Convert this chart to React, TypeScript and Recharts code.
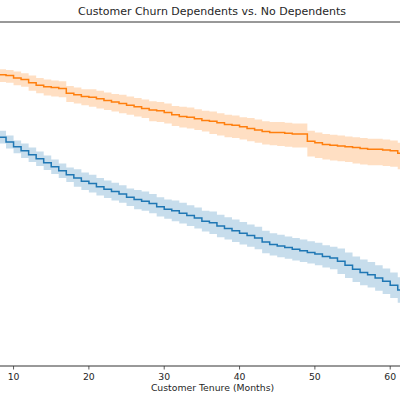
import React from "react";
import { ComposedChart, Area, Line, XAxis, YAxis, ReferenceLine } from "recharts";

const months = [8, 9, 10, 11, 12, 13, 14, 15, 16, 17, 18, 19, 20, 21, 22, 23, 24, 25, 26, 27, 28, 29, 30, 31, 32, 33, 34, 35, 36, 37, 38, 39, 40, 41, 42, 43, 44, 45, 46, 47, 48, 49, 50, 51, 52, 53, 54, 55, 56, 57, 58, 59, 60, 61, 62];

const depSurv = [0.934, 0.933, 0.930, 0.928, 0.924, 0.921, 0.919, 0.918, 0.917, 0.911, 0.909, 0.907, 0.906, 0.904, 0.902, 0.900, 0.898, 0.896, 0.894, 0.892, 0.890, 0.889, 0.887, 0.884, 0.882, 0.881, 0.879, 0.877, 0.876, 0.874, 0.872, 0.871, 0.869, 0.867, 0.865, 0.863, 0.862, 0.862, 0.861, 0.860, 0.860, 0.851, 0.849, 0.847, 0.846, 0.845, 0.844, 0.843, 0.842, 0.841, 0.841, 0.840, 0.839, 0.836, 0.836];
const depUpper = [0.941, 0.940, 0.938, 0.936, 0.933, 0.930, 0.928, 0.927, 0.926, 0.920, 0.918, 0.916, 0.916, 0.914, 0.912, 0.910, 0.909, 0.907, 0.905, 0.903, 0.901, 0.900, 0.898, 0.895, 0.894, 0.893, 0.891, 0.889, 0.888, 0.886, 0.884, 0.883, 0.881, 0.880, 0.878, 0.876, 0.875, 0.875, 0.874, 0.873, 0.873, 0.864, 0.862, 0.860, 0.859, 0.858, 0.857, 0.856, 0.855, 0.854, 0.854, 0.853, 0.852, 0.849, 0.849];
const depLower = [0.925, 0.924, 0.921, 0.919, 0.914, 0.911, 0.908, 0.907, 0.906, 0.900, 0.898, 0.896, 0.894, 0.892, 0.890, 0.888, 0.886, 0.884, 0.882, 0.880, 0.876, 0.875, 0.873, 0.870, 0.868, 0.867, 0.865, 0.863, 0.860, 0.858, 0.856, 0.855, 0.853, 0.851, 0.849, 0.847, 0.846, 0.845, 0.844, 0.843, 0.843, 0.832, 0.830, 0.828, 0.827, 0.826, 0.825, 0.823, 0.822, 0.821, 0.821, 0.820, 0.819, 0.816, 0.816];

const noDepSurv = [0.856, 0.850, 0.844, 0.839, 0.834, 0.829, 0.824, 0.819, 0.814, 0.809, 0.805, 0.801, 0.798, 0.794, 0.791, 0.788, 0.785, 0.781, 0.778, 0.776, 0.773, 0.769, 0.766, 0.764, 0.761, 0.758, 0.755, 0.751, 0.749, 0.745, 0.742, 0.739, 0.736, 0.733, 0.730, 0.725, 0.722, 0.720, 0.718, 0.716, 0.714, 0.712, 0.710, 0.707, 0.705, 0.701, 0.696, 0.691, 0.687, 0.684, 0.680, 0.676, 0.671, 0.665, 0.665];
const noDepUpper = [0.864, 0.858, 0.852, 0.848, 0.843, 0.838, 0.833, 0.828, 0.823, 0.818, 0.816, 0.812, 0.809, 0.805, 0.802, 0.799, 0.796, 0.792, 0.790, 0.788, 0.785, 0.781, 0.778, 0.777, 0.774, 0.771, 0.768, 0.764, 0.763, 0.759, 0.756, 0.753, 0.750, 0.747, 0.744, 0.739, 0.736, 0.734, 0.732, 0.730, 0.728, 0.726, 0.724, 0.721, 0.719, 0.717, 0.712, 0.707, 0.703, 0.700, 0.696, 0.692, 0.687, 0.681, 0.681];
const noDepLower = [0.848, 0.842, 0.836, 0.830, 0.825, 0.820, 0.815, 0.810, 0.805, 0.800, 0.794, 0.790, 0.787, 0.783, 0.780, 0.777, 0.774, 0.770, 0.766, 0.764, 0.761, 0.757, 0.754, 0.751, 0.748, 0.745, 0.742, 0.738, 0.735, 0.731, 0.728, 0.725, 0.722, 0.719, 0.716, 0.711, 0.708, 0.706, 0.704, 0.702, 0.700, 0.698, 0.696, 0.693, 0.691, 0.685, 0.680, 0.675, 0.671, 0.668, 0.664, 0.660, 0.655, 0.649, 0.649];

const xTicks = [10, 20, 30, 40, 50, 60];
const titleText = "Customer Churn Dependents vs. No Dependents";
const xLabelText = "Customer Tenure (Months)";

const BLUE = "#1f77b4";
const ORANGE = "#ff7f0e";
const FONT = "'DejaVu Sans', sans-serif";

const data = months.map((m, i) => ({
  month: m,
  dep: depSurv[i],
  depBand: [depLower[i], depUpper[i]],
  noDep: noDepSurv[i],
  noDepBand: [noDepLower[i], noDepUpper[i]],
}));

export default function App() {
  return (
    <div style={{ position: "absolute", left: 0, top: 0, width: 400, height: 400, background: "#fff", overflow: "hidden" }}>
      <div style={{ position: "absolute", left: 0, width: 424, top: 5, textAlign: "center", fontFamily: FONT, fontSize: 11, color: "#262626", whiteSpace: "nowrap" }}>
        {titleText}
      </div>
      <div style={{ position: "absolute", left: 0, width: 425, top: 382, textAlign: "center", fontFamily: FONT, fontSize: 9.3, color: "#262626", whiteSpace: "nowrap" }}>
        {xLabelText}
      </div>
      <ComposedChart width={400} height={400} data={data} margin={{ top: 22, right: 0, left: 0, bottom: 0 }}>
        <XAxis
          dataKey="month"
          type="number"
          domain={[8.2, 61.3]}
          allowDataOverflow
          ticks={xTicks}
          height={34}
          tickSize={3.5}
          tickMargin={3.5}
          axisLine={{ stroke: "#333", strokeWidth: 1 }}
          tickLine={{ stroke: "#333", strokeWidth: 0.8 }}
          tick={{ fill: "#262626", fontSize: 9.3, fontFamily: FONT }}
        />
        <YAxis hide domain={[0.57, 1.0]} allowDataOverflow />
        <ReferenceLine y={1.0} stroke="#333" strokeWidth={1} ifOverflow="extendDomain" />
        <Area dataKey="noDepBand" type="stepAfter" stroke="none" fill={BLUE} fillOpacity={0.25} isAnimationActive={false} />
        <Line dataKey="noDep" type="stepAfter" stroke={BLUE} strokeWidth={1.5} dot={false} activeDot={false} isAnimationActive={false} />
        <Area dataKey="depBand" type="stepAfter" stroke="none" fill={ORANGE} fillOpacity={0.25} isAnimationActive={false} />
        <Line dataKey="dep" type="stepAfter" stroke={ORANGE} strokeWidth={1.5} dot={false} activeDot={false} isAnimationActive={false} />
      </ComposedChart>
    </div>
  );
}
